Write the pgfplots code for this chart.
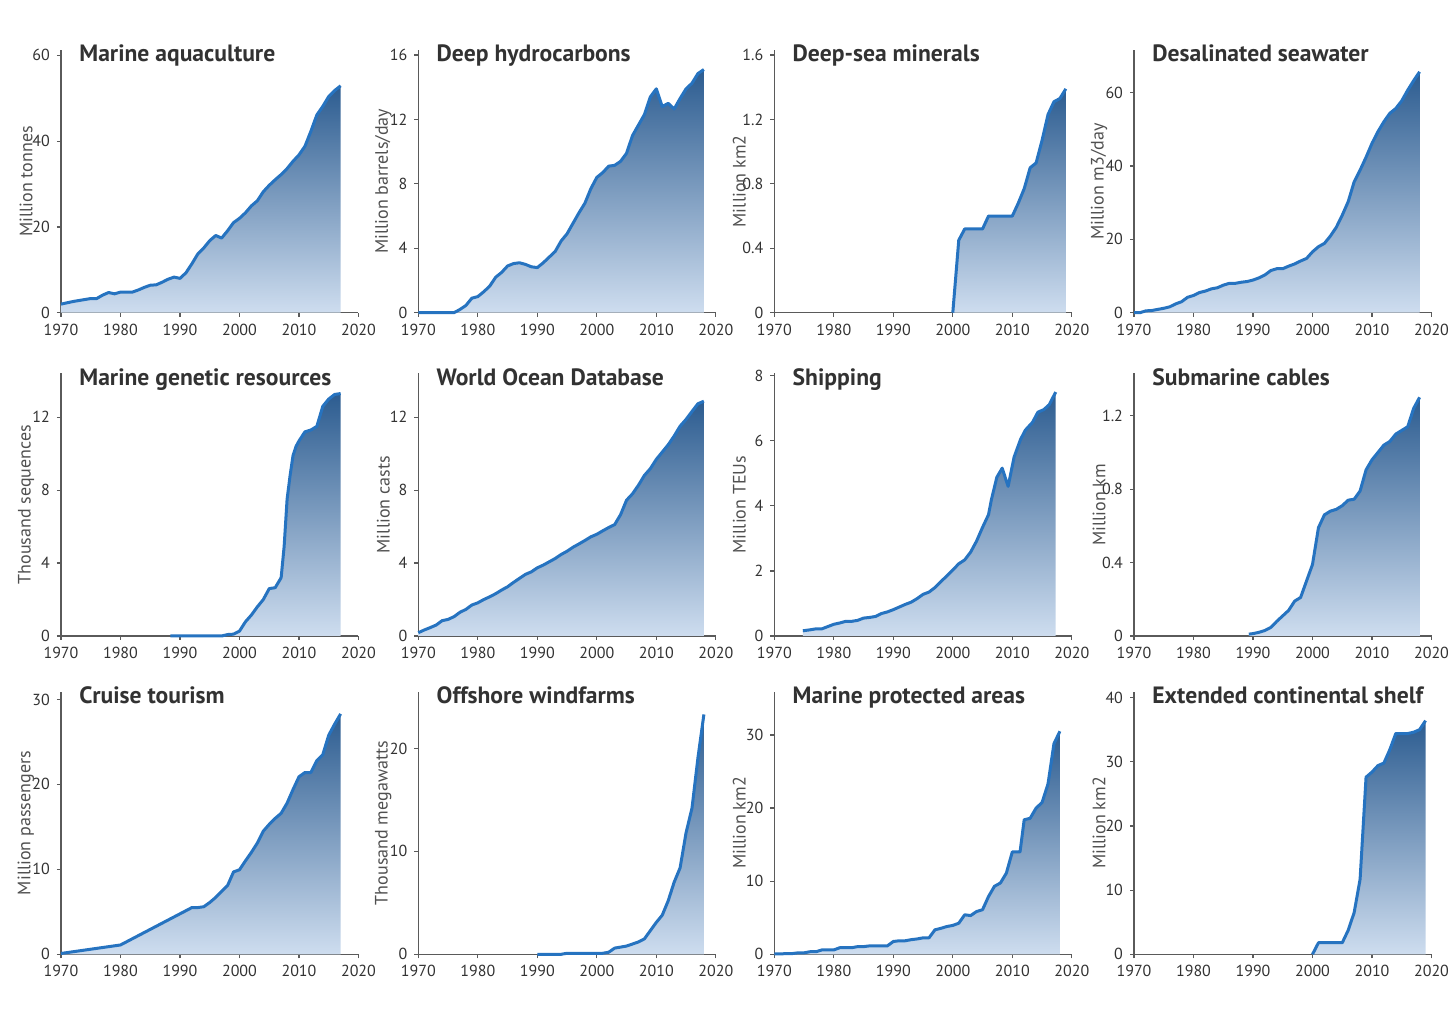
\documentclass[border=0pt]{standalone}
\usepackage{fontspec}
\setmainfont{PT Sans}
\usepackage{pgfplots}
\usepackage{pgfplotstable}
\pgfplotsset{compat=1.18}

\definecolor{linec}{RGB}{38,115,192}
\definecolor{topc}{RGB}{44,92,144}
\definecolor{botc}{RGB}{206,221,239}
\definecolor{axisc}{RGB}{90,90,90}
\definecolor{textc}{RGB}{50,50,50}
\definecolor{ylabc}{RGB}{80,80,80}

\pgfplotsset{
  panel/.style={
    width=148.75pt, height=131.25pt, scale only axis, anchor=south west,
    xmin=1970, xmax=2020, ymin=0,
    axis lines=left, axis line style={-, axisc, line width=0.6pt},
    xtick={1970,1980,...,2020},
    tick align=outside, major tick length=2pt,
    tick style={axisc, line width=0.6pt},
    minor tick num=0,
    /pgf/number format/1000 sep={},
    /pgf/number format/assume math mode=true,
    ticklabel style={font=\fontsize{8}{9}\selectfont, text=textc},
    clip=false,
    every axis title/.style={at={(0,1)}, anchor=base west, xshift=9pt, yshift=-5.8pt,
      inner sep=0pt, font=\bfseries\fontsize{11.8}{13}\selectfont, text=textc},
    every axis y label/.style={at={(axis description cs:-0.1176,0.5)},
      rotate=90, anchor=center, font=\fontsize{9}{10}\selectfont, text=ylabc},
  },
  area/.style={draw=none, top color=topc, bottom color=botc, forget plot},
  curve/.style={linec, line width=1.5pt, line join=round, no markers},
}

% ---- data ----
\pgfplotstableread{
x y
1970 2.0
1972 2.6
1975 3.3
1976 3.3
1977 4.1
1978 4.7
1979 4.4
1980 4.8
1982 4.8
1983 5.3
1984 5.9
1985 6.4
1986 6.5
1987 7.1
1988 7.8
1989 8.3
1990 8.0
1991 9.3
1992 11.4
1993 13.7
1994 15.1
1995 16.8
1996 18.0
1997 17.4
1998 19.1
1999 21.0
2000 22.0
2001 23.3
2002 24.9
2003 26.1
2004 28.2
2005 29.7
2006 31.0
2007 32.2
2008 33.6
2009 35.3
2010 36.8
2011 38.8
2012 42.3
2013 46.1
2014 48.1
2015 50.4
2016 51.8
2017 52.9
}\aquaculture

\pgfplotstableread{
x y
1970 0
1976 0
1977 0.2
1978 0.45
1979 0.9
1980 1.0
1981 1.3
1982 1.65
1983 2.2
1984 2.5
1985 2.9
1986 3.05
1987 3.1
1988 3.0
1989 2.85
1990 2.8
1991 3.1
1992 3.45
1993 3.8
1994 4.45
1995 4.9
1996 5.55
1997 6.2
1998 6.8
1999 7.7
2000 8.4
2001 8.7
2002 9.1
2003 9.15
2004 9.4
2005 9.9
2006 11.0
2007 11.65
2008 12.3
2009 13.4
2010 13.9
2011 12.8
2012 13.0
2013 12.65
2014 13.3
2015 13.9
2016 14.25
2017 14.85
2018 15.1
}\hydrocarbons

\pgfplotstableread{
x y
2000 0
2001 0.45
2002 0.52
2005 0.52
2006 0.60
2010 0.60
2011 0.68
2012 0.77
2013 0.90
2014 0.93
2015 1.07
2016 1.23
2017 1.31
2018 1.33
2019 1.39
}\minerals

\pgfplotstableread{
x y
1970 0
1971 0
1972 0.5
1973 0.6
1974 0.9
1975 1.2
1976 1.6
1977 2.4
1978 3.0
1979 4.2
1980 4.7
1981 5.5
1982 5.9
1983 6.5
1984 6.8
1985 7.5
1986 8.0
1987 8.0
1988 8.3
1989 8.5
1990 8.9
1991 9.5
1992 10.3
1993 11.5
1994 12.0
1995 12.0
1996 12.7
1997 13.3
1998 14.1
1999 14.8
2000 16.6
2001 18.0
2002 18.9
2003 20.9
2004 23.3
2005 26.6
2006 30.3
2007 35.7
2008 38.9
2009 42.4
2010 46.2
2011 49.4
2012 52.1
2013 54.4
2014 55.7
2015 57.8
2016 60.7
2017 63.3
2018 65.7
}\desal

\pgfplotstableread{
x y
1988.4 0
1997 0
1998 0.08
1999 0.1
2000 0.27
2001 0.78
2002 1.15
2003 1.6
2004 2.0
2005 2.6
2006 2.65
2007 3.2
2007.5 4.9
2008 7.5
2008.5 8.8
2009 9.9
2009.5 10.4
2010 10.7
2011 11.2
2012 11.3
2013 11.5
2014 12.6
2015 13.0
2016 13.25
2017 13.3
}\genetic

\pgfplotstableread{
x y
1970 0.18
1971 0.33
1972 0.46
1973 0.6
1974 0.84
1975 0.91
1976 1.06
1977 1.3
1978 1.46
1979 1.7
1980 1.82
1981 2.0
1982 2.15
1983 2.32
1984 2.52
1985 2.7
1986 2.94
1987 3.16
1988 3.38
1989 3.52
1990 3.74
1991 3.89
1992 4.07
1993 4.25
1994 4.47
1995 4.65
1996 4.87
1997 5.05
1998 5.24
1999 5.44
2000 5.58
2001 5.77
2002 5.95
2003 6.11
2004 6.66
2005 7.45
2006 7.8
2007 8.27
2008 8.81
2009 9.18
2010 9.69
2011 10.09
2012 10.49
2013 10.97
2014 11.51
2015 11.88
2016 12.32
2017 12.74
2018 12.88
}\wod

\pgfplotstableread{
x y
1974.8 0.16
1976 0.19
1977 0.22
1978 0.22
1979 0.29
1980 0.36
1981 0.40
1982 0.45
1983 0.45
1984 0.48
1985 0.55
1986 0.57
1987 0.60
1988 0.69
1989 0.74
1990 0.81
1991 0.89
1992 0.97
1993 1.04
1994 1.15
1995 1.28
1996 1.35
1997 1.49
1998 1.67
1999 1.85
2000 2.03
2001 2.22
2002 2.34
2003 2.58
2004 2.92
2005 3.34
2006 3.73
2006.5 4.2
2007.4 4.88
2008.3 5.16
2009.3 4.6
2010.3 5.5
2011.4 6.05
2012.2 6.33
2013.4 6.57
2014.3 6.88
2015.3 6.96
2016.2 7.11
2017.3 7.5
}\shipping

\pgfplotstableread{
x y
1989.3 0.01
1990 0.013
1991 0.02
1992 0.03
1993 0.047
1994 0.08
1995 0.11
1996 0.14
1997 0.19
1998 0.21
1999 0.30
2000 0.39
2001 0.59
2002 0.66
2003 0.68
2004 0.69
2005 0.71
2006 0.74
2007 0.745
2008 0.79
2009 0.905
2010 0.96
2011 1.0
2012 1.04
2013 1.06
2014 1.10
2015 1.12
2016 1.14
2017 1.24
2018 1.30
}\cables

\pgfplotstableread{
x y
1970 0.1
1980 1.1
1992 5.5
1993 5.5
1994 5.6
1995 6.1
1996 6.7
1997 7.4
1998 8.1
1999 9.7
2000 9.95
2001 11.0
2002 12.0
2003 13.1
2004 14.5
2005 15.3
2006 16.0
2007 16.6
2008 17.8
2009 19.4
2010 20.9
2011 21.4
2012 21.4
2013 22.8
2014 23.5
2015 25.8
2016 27.1
2017 28.3
}\cruise

\pgfplotstableread{
x y
1990 0
1994 0
1995 0.1
2001 0.1
2002 0.2
2003 0.6
2004 0.7
2005 0.8
2006 1.0
2007 1.2
2008 1.5
2009 2.3
2010 3.1
2011 3.8
2012 5.2
2013 7.0
2014 8.4
2015 11.8
2016 14.2
2017 19.1
2018 23.3
}\wind

\pgfplotstableread{
x y
1970 0.05
1973 0.1
1974 0.2
1975 0.2
1976 0.35
1977 0.35
1978 0.6
1980 0.6
1981 0.9
1983 0.9
1984 1.05
1985 1.05
1986 1.15
1989 1.15
1990 1.75
1991 1.85
1992 1.85
1993 2.0
1994 2.1
1995 2.25
1996 2.25
1997 3.35
1998 3.55
1999 3.8
2000 3.95
2001 4.25
2002 5.4
2003 5.3
2004 5.85
2005 6.1
2006 7.9
2007 9.3
2008 9.75
2009 11.1
2010 14.0
2011.3 14.0
2012 18.4
2013 18.6
2014 20.0
2015 20.75
2016 23.3
2017 28.8
2018 30.5
}\mpa

\pgfplotstableread{
x y
2000 0
2001 1.8
2005 1.8
2006 3.75
2007 6.5
2008 11.7
2009 27.6
2010 28.4
2011 29.4
2012 29.8
2013 31.9
2014 34.4
2016 34.4
2017 34.6
2018 35.0
2019 36.4
}\shelf

\begin{document}
\begin{tikzpicture}

% ---- row 1 ----
\begin{axis}[panel, at={(30.5pt,357.65pt)}, ymax=61.2, ytick={0,20,40,60},
  ylabel={Million tonnes}, title={Marine aquaculture}]
\addplot[area] table {\aquaculture} \closedcycle;
\addplot[curve] table {\aquaculture};
\end{axis}

\begin{axis}[panel, at={(209.15pt,357.65pt)}, ymax=16.3, ytick={0,4,8,12,16},
  ylabel={Million barrels/day}, title={Deep hydrocarbons}]
\addplot[area] table {\hydrocarbons} \closedcycle;
\addplot[curve] table {\hydrocarbons};
\end{axis}

\begin{axis}[panel, at={(387.15pt,357.65pt)}, ymax=1.63, ytick={0,0.4,0.8,1.2,1.6},
  ylabel={Million km2}, title={Deep-sea minerals}]
\addplot[area] table {\minerals} \closedcycle;
\addplot[curve] table {\minerals};
\end{axis}

\begin{axis}[panel, at={(567pt,357.65pt)}, ymax=71.6, ytick={0,20,40,60},
  ylabel={Million m3/day}, title={Desalinated seawater}]
\addplot[area] table {\desal} \closedcycle;
\addplot[curve] table {\desal};
\end{axis}

% ---- row 2 ----
\begin{axis}[panel, at={(30.5pt,196pt)}, ymax=14.4, ytick={0,4,8,12},
  ylabel={Thousand sequences}, title={Marine genetic resources}]
\addplot[area] table {\genetic} \closedcycle;
\addplot[curve] table {\genetic};
\end{axis}

\begin{axis}[panel, at={(209.15pt,196pt)}, ymax=14.4, ytick={0,4,8,12},
  ylabel={Million casts}, title={World Ocean Database}]
\addplot[area] table {\wod} \closedcycle;
\addplot[curve] table {\wod};
\end{axis}

\begin{axis}[panel, at={(387.15pt,196pt)}, ymax=8.07, ytick={0,2,4,6,8},
  ylabel={Million TEUs}, title={Shipping}]
\addplot[area] table {\shipping} \closedcycle;
\addplot[curve] table {\shipping};
\end{axis}

\begin{axis}[panel, at={(567pt,196pt)}, ymax=1.43, ytick={0,0.4,0.8,1.2},
  ylabel={Million km}, title={Submarine cables}]
\addplot[area] table {\cables} \closedcycle;
\addplot[curve] table {\cables};
\end{axis}

% ---- row 3 ----
\begin{axis}[panel, at={(30.5pt,36.85pt)}, ymax=30.9, ytick={0,10,20,30},
  ylabel={Million passengers}, title={Cruise tourism}]
\addplot[area] table {\cruise} \closedcycle;
\addplot[curve] table {\cruise};
\end{axis}

\begin{axis}[panel, at={(209.15pt,36.85pt)}, ymax=25.5, ytick={0,10,20},
  ylabel={Thousand megawatts}, title={Offshore windfarms}]
\addplot[area] table {\wind} \closedcycle;
\addplot[curve] table {\wind};
\end{axis}

\begin{axis}[panel, at={(387.15pt,36.85pt)}, ymax=35.9, ytick={0,10,20,30},
  ylabel={Million km2}, title={Marine protected areas}]
\addplot[area] table {\mpa} \closedcycle;
\addplot[curve] table {\mpa};
\end{axis}

\begin{axis}[panel, at={(567pt,36.85pt)}, ymax=40.9, ytick={0,10,20,30,40},
  ylabel={Million km2}, title={Extended continental shelf}]
\addplot[area] table {\shelf} \closedcycle;
\addplot[curve] table {\shelf};
\end{axis}

\pgfresetboundingbox
\path (0,0) rectangle (728pt,514pt);
\end{tikzpicture}
\end{document}
